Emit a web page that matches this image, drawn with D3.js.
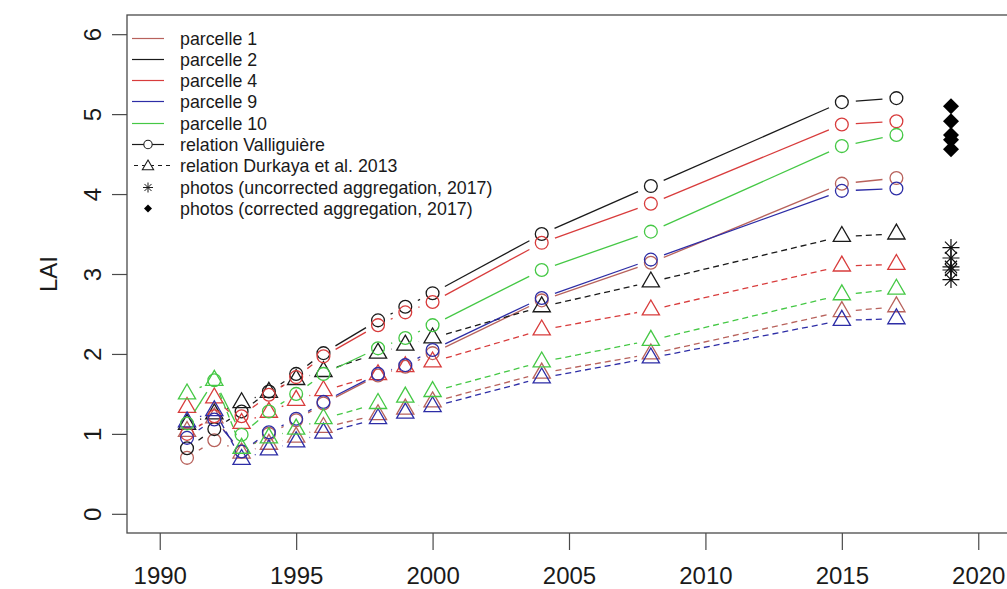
<!DOCTYPE html>
<html>
<head>
<meta charset="utf-8">
<script src="https://cdn.jsdelivr.net/npm/d3@7/dist/d3.min.js"></script>
<style>
  html, body { margin: 0; padding: 0; background: #fff; }
  svg text { font-family: "Liberation Sans", Arial, Helvetica, sans-serif; fill: #1a1a1a; }
</style>
</head>
<body>
<svg id="chart" width="1007" height="589"></svg>
<script>
// ---- data -------------------------------------------------------------
const years = [1991, 1992, 1993, 1994, 1995, 1996, 1998, 1999, 2000, 2004, 2008, 2015, 2017];

const parcelNames  = ["parcelle 1", "parcelle 2", "parcelle 4", "parcelle 9", "parcelle 10"];
const parcelColors = ["#b8625c", "#1a1a1a", "#d83c3c", "#2d2da6", "#45c845"];

// LAI from the Valliguière relation (circles, solid lines)
const vallP1  = [0.70, 0.92, 0.78, 1.00, 1.17, 1.38, 1.73, 1.84, 2.01, 2.67, 3.14, 4.13, 4.20];
const vallP2  = [0.82, 1.06, 1.28, 1.53, 1.75, 2.01, 2.42, 2.59, 2.76, 3.50, 4.10, 5.15, 5.20];
const vallP4  = [1.00, 1.22, 1.22, 1.49, 1.71, 1.97, 2.36, 2.52, 2.65, 3.39, 3.88, 4.87, 4.91];
const vallP9  = [0.95, 1.18, 0.78, 1.02, 1.19, 1.40, 1.75, 1.86, 2.05, 2.70, 3.18, 4.04, 4.07];
const vallP10 = [1.13, 1.67, 0.99, 1.28, 1.50, 1.75, 2.07, 2.20, 2.36, 3.05, 3.53, 4.60, 4.74];

// LAI from the Durkaya et al. 2013 relation (triangles, dashed lines)
const durkP1  = [1.03, 1.20, 0.76, 0.87, 0.96, 1.08, 1.24, 1.31, 1.40, 1.76, 2.00, 2.53, 2.59];
const durkP2  = [1.12, 1.25, 1.39, 1.52, 1.68, 1.78, 2.01, 2.11, 2.20, 2.59, 2.90, 3.47, 3.50];
const durkP4  = [1.33, 1.45, 1.13, 1.27, 1.42, 1.54, 1.74, 1.84, 1.90, 2.30, 2.55, 3.10, 3.12];
const durkP9  = [1.15, 1.29, 0.68, 0.80, 0.90, 1.01, 1.19, 1.26, 1.34, 1.70, 1.95, 2.42, 2.44];
const durkP10 = [1.50, 1.67, 0.82, 0.95, 1.06, 1.19, 1.38, 1.46, 1.53, 1.90, 2.17, 2.74, 2.81];

// hemispherical photo estimates, plotted at 2019
const photoYear = 2019;
const photosUncorrected = [3.33, 3.20, 3.09, 3.05, 2.93];
const photosCorrected   = [5.10, 4.91, 4.74, 4.68, 4.56];

const xTicks = [1990, 1995, 2000, 2005, 2010, 2015, 2020];
const yTicks = [0, 1, 2, 3, 4, 5, 6];

const legendLabels = [
  "parcelle 1", "parcelle 2", "parcelle 4", "parcelle 9", "parcelle 10",
  "relation Valliguière", "relation Durkaya et al. 2013",
  "photos (uncorrected aggregation, 2017)", "photos (corrected aggregation, 2017)"
];

const vallSeries = [vallP1, vallP2, vallP4, vallP9, vallP10];
const durkSeries = [durkP1, durkP2, durkP4, durkP9, durkP10];

// ---- layout -----------------------------------------------------------
const svg = d3.select("#chart");
const box = { left: 127, right: 1011, top: 15, bottom: 533 };

const x = d3.scaleLinear().domain([1988.8, 2021.2]).range([box.left, box.right]);
const y = d3.scaleLinear().domain([-0.24, 6.24]).range([box.bottom, box.top]);

const axisColor = "#4a4a4a";
const lw = 1.3;
const circleR = 6.4;
const gap = 14;          // space left between a line and the symbols it joins

// triangle path (apex up) with the given circumradius
function trianglePath(cx, cy, r) {
  const hw = r * Math.sqrt(3) / 2;
  return `M${cx},${cy - r}L${cx + hw},${cy + r / 2}L${cx - hw},${cy + r / 2}Z`;
}

// ---- axes ---------------------------------------------------------------
const xAxis = svg.append("g")
  .attr("transform", `translate(0,${box.bottom})`)
  .call(d3.axisBottom(x).tickValues(xTicks).tickSize(17).tickFormat(d3.format("d")));
xAxis.select(".domain").remove();
xAxis.selectAll(".tick line").attr("stroke", axisColor).attr("stroke-width", 1.2);
xAxis.selectAll(".tick text")
  .attr("y", 51).attr("dy", null)
  .attr("font-size", 24).attr("fill", "#1a1a1a");

const yAxis = svg.append("g")
  .attr("transform", `translate(${box.left},0)`)
  .call(d3.axisLeft(y).tickValues(yTicks).tickSize(15).tickFormat(d3.format("d")));
yAxis.select(".domain").remove();
yAxis.selectAll(".tick line").attr("stroke", axisColor).attr("stroke-width", 1.2);
yAxis.selectAll(".tick text")
  .attr("x", null).attr("dy", null)
  .attr("transform", "translate(-26,0) rotate(-90)")
  .attr("text-anchor", "middle")
  .attr("font-size", 24).attr("fill", "#1a1a1a");

svg.append("text")
  .attr("transform", `translate(57,${(box.top + box.bottom) / 2}) rotate(-90)`)
  .attr("text-anchor", "middle")
  .attr("font-size", 24)
  .text("LAI");

// ---- series ----------------------------------------------------------
const plot = svg.append("g");

function gappedSegments(values) {
  const segs = [];
  for (let i = 0; i < values.length - 1; i++) {
    const x0 = x(years[i]), y0 = y(values[i]);
    const x1 = x(years[i + 1]), y1 = y(values[i + 1]);
    const d = Math.hypot(x1 - x0, y1 - y0);
    if (d <= 2 * gap) continue;
    const ux = (x1 - x0) / d, uy = (y1 - y0) / d;
    segs.push([x0 + ux * gap, y0 + uy * gap, x1 - ux * gap, y1 - uy * gap]);
  }
  return segs;
}

function drawSeries(values, color, kind) {
  const g = plot.append("g");
  g.selectAll("line").data(gappedSegments(values)).join("line")
    .attr("x1", d => d[0]).attr("y1", d => d[1])
    .attr("x2", d => d[2]).attr("y2", d => d[3])
    .attr("stroke", color).attr("stroke-width", lw)
    .attr("stroke-dasharray", kind === "tri" ? "6,4" : null);
  const pts = values.map((v, i) => [x(years[i]), y(v)]);
  if (kind === "circle") {
    g.selectAll("circle").data(pts).join("circle")
      .attr("cx", d => d[0]).attr("cy", d => d[1]).attr("r", circleR)
      .attr("fill", "none").attr("stroke", color).attr("stroke-width", lw);
  } else {
    g.selectAll("path").data(pts).join("path")
      .attr("d", d => trianglePath(d[0], d[1], circleR * 1.555))
      .attr("fill", "none").attr("stroke", color).attr("stroke-width", lw);
  }
}

parcelNames.forEach((name, i) => {
  drawSeries(vallSeries[i], parcelColors[i], "circle");
  drawSeries(durkSeries[i], parcelColors[i], "tri");
});

// asterisk symbol (plus and cross)
function starPath(cx, cy, r) {
  const d = r * Math.SQRT1_2;
  return `M${cx - r},${cy}L${cx + r},${cy}M${cx},${cy - r}L${cx},${cy + r}` +
         `M${cx - d},${cy - d}L${cx + d},${cy + d}M${cx - d},${cy + d}L${cx + d},${cy - d}`;
}
function diamondPath(cx, cy, r) {
  return `M${cx},${cy - r}L${cx + r},${cy}L${cx},${cy + r}L${cx - r},${cy}Z`;
}

plot.append("g").selectAll("path").data(photosUncorrected).join("path")
  .attr("d", v => starPath(x(photoYear), y(v), 8.5))
  .attr("fill", "none").attr("stroke", "#111").attr("stroke-width", 1.2);

plot.append("g").selectAll("path").data(photosCorrected).join("path")
  .attr("d", v => diamondPath(x(photoYear), y(v), 8))
  .attr("fill", "#000");

// ---- frame -----------------------------------------------------------
svg.append("rect")
  .attr("x", box.left).attr("y", box.top)
  .attr("width", box.right - box.left).attr("height", box.bottom - box.top)
  .attr("fill", "none").attr("stroke", axisColor).attr("stroke-width", 1.3);

// ---- legend ----------------------------------------------------------
const legend = svg.append("g");
const lgX0 = 132, lgX1 = 164, lgMid = 148, lgText = 180, lgY0 = 37.5, lgDy = 21.3;

legendLabels.forEach((label, i) => {
  const cy = Math.round(lgY0 + i * lgDy) + 0.5;
  const row = legend.append("g");
  if (i < parcelNames.length) {
    row.append("line").attr("x1", lgX0).attr("x2", lgX1).attr("y1", cy).attr("y2", cy)
      .attr("stroke", parcelColors[i]).attr("stroke-width", 1.2);
  } else if (i === 5) {
    row.append("line").attr("x1", lgX0).attr("x2", lgX1).attr("y1", cy).attr("y2", cy)
      .attr("stroke", "#1a1a1a").attr("stroke-width", 1.2);
    row.append("circle").attr("cx", lgMid).attr("cy", cy).attr("r", 4.2)
      .attr("fill", "#fff").attr("stroke", "#1a1a1a").attr("stroke-width", 1.1);
  } else if (i === 6) {
    row.append("line").attr("x1", lgX0 + 2).attr("x2", lgX1 + 6).attr("y1", cy).attr("y2", cy)
      .attr("stroke", "#1a1a1a").attr("stroke-width", 1.1).attr("stroke-dasharray", "4,4");
    row.append("path").attr("d", trianglePath(lgMid, cy + 1, 6.5))
      .attr("fill", "#fff").attr("stroke", "#1a1a1a").attr("stroke-width", 1.1);
  } else if (i === 7) {
    row.append("path").attr("d", starPath(lgMid, cy, 5))
      .attr("fill", "none").attr("stroke", "#1a1a1a").attr("stroke-width", 1);
  } else {
    row.append("path").attr("d", diamondPath(lgMid, cy, 4)).attr("fill", "#000");
  }
  row.append("text").attr("x", lgText).attr("y", cy).attr("dy", "0.35em")
    .attr("font-size", 17.8).text(label);
});
</script>
</body>
</html>
